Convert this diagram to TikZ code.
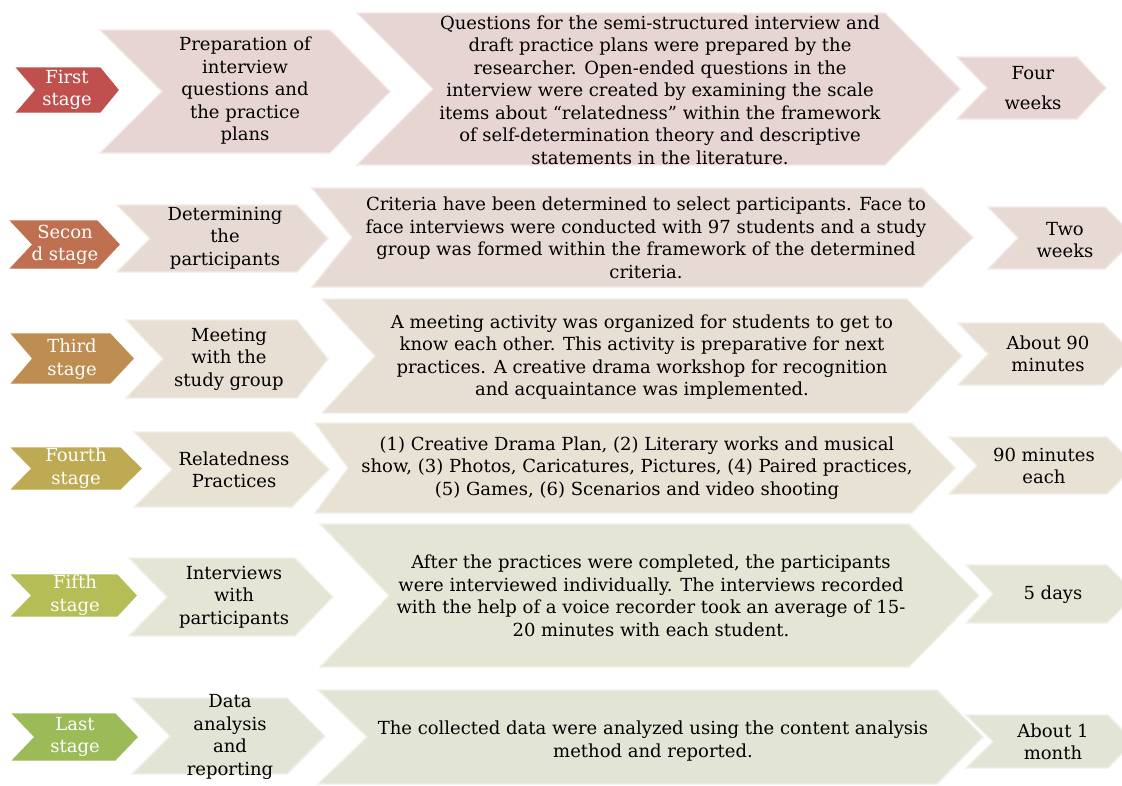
\documentclass[tikz,border=0pt]{standalone}
\usepackage{fontspec}
\setmainfont{DejaVu Serif}

% stage colours, red to green
\definecolor{st1}{RGB}{192,80,77}
\definecolor{st2}{RGB}{190,112,80}
\definecolor{st3}{RGB}{189,141,81}
\definecolor{st4}{RGB}{190,170,83}
\definecolor{st5}{RGB}{181,189,86}
\definecolor{st6}{RGB}{155,187,89}
\definecolor{paper}{RGB}{238,236,235}
\colorlet{li1}{st1!15!paper}
\colorlet{li2}{st2!15!paper}
\colorlet{li3}{st3!15!paper}
\colorlet{li4}{st4!15!paper}
\colorlet{li5}{st5!15!paper}
\colorlet{li6}{st6!15!paper}

% chevron: #1 fill, #2 rim, #3 left x, #4 tip x, #5 top y, #6 bottom y,
% #7 notch depth, #8 point depth
\newcommand{\chevshape}[8]{%
  \filldraw[fill=#1, draw=#2, line width=1.4pt, line join=miter]
    (#3,#5) -- ({#4-#8},#5) -- (#4,{(#5+#6)/2}) -- ({#4-#8},#6)
    -- (#3,#6) -- ({#3+#7},{(#5+#6)/2}) -- cycle;}
% stage chevron (solid) and step chevron (light with a pale rim)
\newcommand{\stagechev}[7]{\chevshape{#1}{#1}{#2}{#3}{#4}{#5}{#6}{#7}}
\newcommand{\stepchev}[7]{\chevshape{#1}{#1!55!white}{#2}{#3}{#4}{#5}{#6}{#7}}

\begin{document}
\begin{tikzpicture}[x=1pt, y=-1pt,
  txt/.style={align=center, inner sep=0pt, text=black,
    font=\fontsize{18}{22.5}\selectfont},
  stagetxt/.style={txt, text=white}]
\useasboundingbox (0,0) rectangle (1122,785);
\clip (0,0) rectangle (1122,785);

% ---- first stage
\stagechev{st1}{17}{118}{68}{112}{19}{18}
\stepchev{li1}{100}{390}{30}{153}{62}{60}
\stepchev{li1}{357}{960}{13}{165}{76}{75}
\stepchev{li1}{957}{1106}{57}{119}{30}{29}
\node[stagetxt] (s1) at (67,90) {First\\stage};
\node[txt] (a1) at (245,91) {Preparation of\\interview\\questions and\\the practice\\plans};
\node[txt] (b1) at (660,90) {Questions for the semi-structured interview and\\
draft practice plans were prepared by the\\
researcher. Open-ended questions in the\\
interview were created by examining the scale\\
items about “relatedness” within the framework\\
of self-determination theory and descriptive\\
statements in the literature.};
\node[txt] (c1) at (1033,88) {Four\\[8pt]weeks};

% ---- second stage
\stagechev{st2}{11}{119}{221}{268}{22}{22}
\stepchev{li2}{117}{328}{205}{272}{33}{31}
\stepchev{li2}{312}{973}{188}{287}{40}{51}
\stepchev{li2}{988}{1136}{207}{269}{30}{31}
\node[stagetxt] (s2) at (65,245) {Secon\\d stage};
\node[txt] (a2) at (225,238) {Determining\\the\\participants};
\node[txt] (b2) at (646,238) {Criteria have been determined to select participants. Face to\\
face interviews were conducted with 97 students and a study\\
group was formed within the framework of the determined\\
criteria.};
\node[txt] (c2) at (1065,240) {Two\\weeks};

% ---- third stage
\stagechev{st3}{12}{133}{334}{383}{21}{23}
\stepchev{li3}{126}{328}{320}{398}{37}{31}
\stepchev{li3}{322}{962}{299}{413}{53}{55}
\stepchev{li3}{958}{1134}{323}{385}{30}{31}
\node[stagetxt] (s3) at (72,359) {Third\\stage};
\node[txt] (a3) at (229,359) {Meeting\\with the\\study group};
\node[txt] (b3) at (642,357) {A meeting activity was organized for students to get to\\
know each other. This activity is preparative for next\\
practices. A creative drama workshop for recognition\\
and acquaintance was implemented.};
\node[txt] (c3) at (1048,354) {About 90\\minutes};

% ---- fourth stage
\stagechev{st4}{12}{141}{448}{489}{20}{21}
\stepchev{li4}{134}{329}{432}{507}{38}{37}
\stepchev{li4}{315}{955}{423}{513}{33}{43}
\stepchev{li4}{949}{1135}{437}{494}{28}{28}
\node[stagetxt] (s4) at (76,468) {Fourth\\stage};
\node[txt] (a4) at (234,470) {Relatedness\\Practices};
\node[txt] (b4) at (637,468) {(1) Creative Drama Plan, (2) Literary works and musical\\
show, (3) Photos, Caricatures, Pictures, (4) Paired practices,\\
(5) Games, (6) Scenarios and video shooting};
\node[txt] (c4) at (1044,466) {90 minutes\\each};

% ---- fifth stage
\stagechev{st5}{12}{136}{575}{616}{20}{19}
\stepchev{li5}{129}{333}{558}{636}{38}{38}
\stepchev{li5}{320}{979}{524}{667}{69}{70}
\stepchev{li5}{966}{1136}{565}{623}{27}{29}
\node[stagetxt] (s5) at (75,595) {Fifth\\stage};
\node[txt] (a5) at (234,597) {Interviews\\with\\participants};
\node[txt] (b5) at (651,596) {After the practices were completed, the participants\\
were interviewed individually. The interviews recorded\\
with the help of a voice recorder took an average of 15-\\
20 minutes with each student.};
\node[txt] (c5) at (1053,595) {5 days};

% ---- last stage
\stagechev{st6}{13}{137}{714}{760}{22}{22}
\stepchev{li6}{132}{325}{698}{774}{38}{38}
\stepchev{li6}{318}{983}{690}{784}{49}{46}
\stepchev{li6}{966}{1134}{715}{768}{27}{26}
\node[stagetxt] (s6) at (75,737) {Last\\stage};
\node[txt] (a6) at (230,737) {Data\\analysis\\and\\reporting};
\node[txt] (b6) at (653,741) {The collected data were analyzed using the content analysis\\
method and reported.};
\node[txt] (c6) at (1053,742) {About 1\\month};
\end{tikzpicture}
\end{document}
